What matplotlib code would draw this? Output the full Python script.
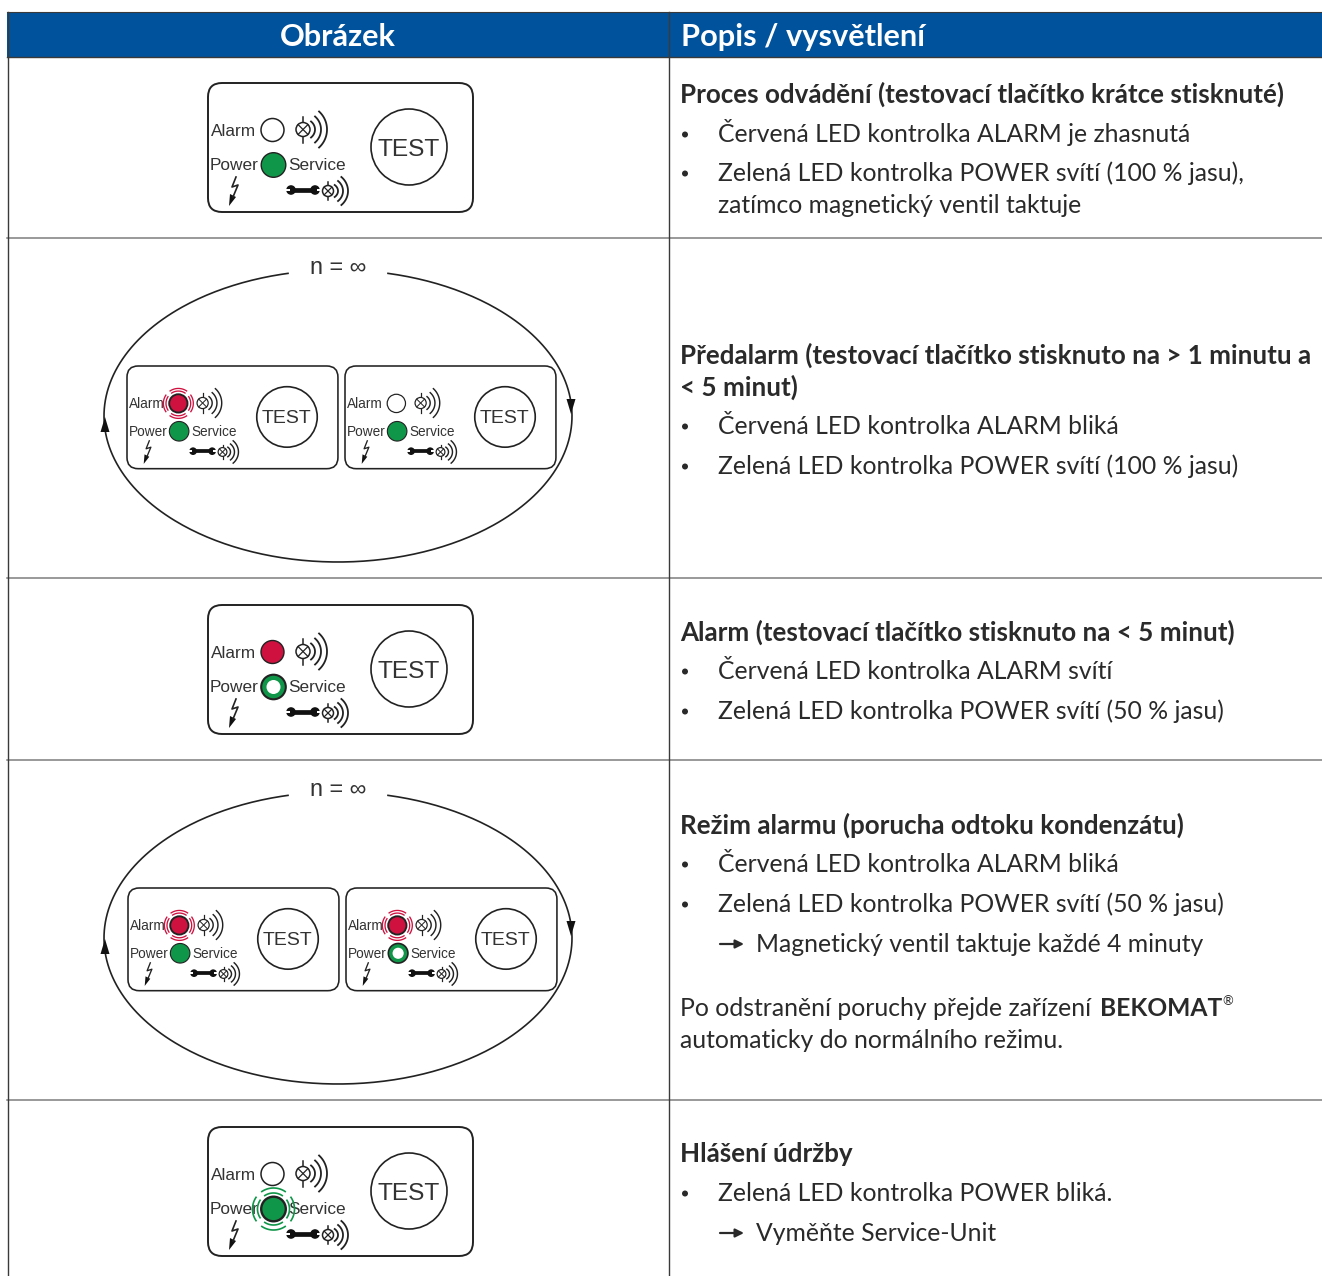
import numpy as np
import matplotlib
matplotlib.use("Agg")
import matplotlib.pyplot as plt
from matplotlib.patches import Circle, FancyBboxPatch, Rectangle, Polygon

W, H = 1322, 1276
BLUE = "#00529c"
RULE = "#7d7d7d"
FRAME = "#3a3a3a"
INK = "#2a2a2a"
GREEN = "#0f9648"
RED = "#cf1140"
BODY_FONT = "Lato"
LABEL_FONT = "Liberation Sans"
BODY_PX = 24.8
TITLE_PX = 26

headers = ["Obrázek", "Popis / vysvětlení"]
row_lines = [238, 578, 760, 1100]

# kind: t = bold title, b = bullet, c = continuation, a = arrow line
line_kinds = ["t", "b", "b", "c",
              "t", "t", "b", "b",
              "t", "b", "b",
              "t", "b", "b", "a", "c", "c",
              "t", "b", "a"]
line_texts = [
    "Proces odvádění (testovací tlačítko krátce stisknuté)",
    "Červená LED kontrolka ALARM je zhasnutá",
    "Zelená LED kontrolka POWER svítí (100 % jasu),",
    "zatímco magnetický ventil taktuje",
    "Předalarm (testovací tlačítko stisknuto na > 1 minutu a",
    "< 5 minut)",
    "Červená LED kontrolka ALARM bliká",
    "Zelená LED kontrolka POWER svítí (100 % jasu)",
    "Alarm (testovací tlačítko stisknuto na < 5 minut)",
    "Červená LED kontrolka ALARM svítí",
    "Zelená LED kontrolka POWER svítí (50 % jasu)",
    "Režim alarmu (porucha odtoku kondenzátu)",
    "Červená LED kontrolka ALARM bliká",
    "Zelená LED kontrolka POWER svítí (50 % jasu)",
    "Magnetický ventil taktuje každé 4 minuty",
    "Po odstranění poruchy přejde zařízení",
    "automaticky do normálního režimu.",
    "Hlášení údržby",
    "Zelená LED kontrolka POWER bliká.",
    "Vyměňte Service-Unit",
]
line_baselines = [102.5, 142, 181, 213,
                  363.5, 395.5, 434, 474,
                  640.5, 679, 719,
                  833.5, 872, 912, 952, 1016, 1048,
                  1162.5, 1201, 1241]

# panel origin x, origin y, scale, alarm led, power led
panels = [
    (208, 83, 1.0, "off", "on"),
    (127, 366, 0.796, "blink", "on"),
    (345, 366, 0.796, "off", "on"),
    (208, 605, 1.0, "on", "half"),
    (128, 888, 0.796, "blink", "on"),
    (346, 888, 0.796, "blink", "half"),
    (208, 1127, 1.0, "off", "blink"),
]
loop_centres = [416, 938]

fig = plt.figure(figsize=(W / 100, H / 100), dpi=100)
ax = fig.add_axes([0, 0, 1, 1])
ax.set_xlim(0, W)
ax.set_ylim(H, 0)
ax.axis("off")


def px(size):
    return size * 0.72


def rings(cx, cy, s, color, radii):
    for r in radii:
        for mid in (0, 90, 180, 270):
            t = np.radians(np.linspace(mid - 36, mid + 36, 30))
            ax.plot(cx + s * r * np.cos(t), cy + s * r * np.sin(t), color=color,
                    lw=1.2 * s, zorder=4, solid_capstyle="butt")


def led(cx, cy, s, state, color, r):
    if state == "off":
        ax.add_patch(Circle((cx, cy), r * s, fc="white", ec="#222222", lw=1.1 * s, zorder=5))
    elif state == "half":
        ax.add_patch(Circle((cx, cy), r * s, fc=color, ec="#222222", lw=1.5 * s, zorder=5))
        ax.add_patch(Circle((cx, cy), 7 * s, fc="white", ec="none", zorder=6))
    else:
        lw = 1.7 * s if state == "blink" else 1.0 * s
        ax.add_patch(Circle((cx, cy), r * s, fc=color, ec="#222222", lw=lw, zorder=5))
        if state == "blink":
            radii = (15.5, 18.8) if color == RED else (16, 21)
            rings(cx, cy, s, color, radii)


def lamp(cx, cy, s, r, stem, offsets, spread):
    ax.add_patch(Circle((cx, cy), r * s, fc="white", ec="#222222", lw=1.1 * s, zorder=3))
    d = r * s * 0.7
    ax.plot([cx - d, cx + d], [cy - d, cy + d], color="#222222", lw=0.9 * s, zorder=4)
    ax.plot([cx - d, cx + d], [cy + d, cy - d], color="#222222", lw=0.9 * s, zorder=4)
    ax.plot([cx, cx], [cy - stem * s, cy - r * s], color="#222222", lw=1.1 * s)
    ax.plot([cx, cx], [cy + r * s, cy + stem * s], color="#222222", lw=1.1 * s)
    for off, half in zip(offsets, spread):
        t = np.radians(np.linspace(-48, 48, 30))
        ax.plot(cx + s * off * np.cos(t), cy + s * half * np.sin(t) / np.sin(np.radians(48)),
                color="#222222", lw=1.3 * s)


def wrench(x0, x1, y, s):
    ax.plot([x0, x1], [y, y], color="#111111", lw=3.4 * s, solid_capstyle="butt")
    ax.add_patch(Circle((x0, y), 4.8 * s, fc="#111111", ec="none"))
    ax.add_patch(Circle((x1, y), 4.8 * s, fc="#111111", ec="none"))
    ax.add_patch(Rectangle((x0 - 5.5 * s, y - 1.2 * s), 4 * s, 2.4 * s, fc="white", ec="none", zorder=3))
    ax.add_patch(Rectangle((x1 + 1.5 * s, y - 1.2 * s), 4 * s, 2.4 * s, fc="white", ec="none", zorder=3))


def panel(ox, oy, s, alarm, power):
    def p(x, y):
        return ox + s * x, oy + s * y

    ax.add_patch(FancyBboxPatch((ox + 14 * s, oy + 14 * s), 237 * s, 101 * s,
                                boxstyle=f"round,pad={14 * s}", fc="white", ec="#222222", lw=1.4 if s == 1 else 1.15))
    for label, x, y in (("Alarm", 3, 48), ("Power", 2, 83), ("Service", 80.5, 83)):
        xx, yy = p(x, y)
        ax.text(xx, yy, label, fontsize=px(17.2 * s), family=LABEL_FONT, color="#333333",
                ha="left", va="center", zorder=3)
    led(*p(64.5, 47), s, alarm, RED, 11.5)
    led(*p(65.5, 82), s, power, GREEN, 12.3)
    lamp(*p(95, 46.5), s, 7, 13, (12, 18, 24), (8, 13, 18))
    lamp(*p(120, 108), s, 5.5, 9, (10, 15, 20), (6, 10, 14))
    wrench(*[ox + s * 83, ox + s * 107], oy + s * 107, s)

    bolt = [p(28, 94), p(24, 104), p(30, 102), p(25, 114)]
    ax.plot([q[0] for q in bolt], [q[1] for q in bolt], color="#222222", lw=1.2 * s)
    ax.add_patch(Polygon([p(21, 123), p(22, 111), p(28, 114)], fc="#111111", ec="none"))

    cx, cy = p(201, 64)
    ax.add_patch(Circle((cx, cy), 38 * s, fc="white", ec="#222222", lw=1.2))
    ax.text(cx, cy + 2.5 * s, "TEST", fontsize=px(24.5 * s), family=LABEL_FONT, color="#333333",
            ha="center", va="center")


def loop(cy):
    cx, a, b = 338, 234, 146
    gap = np.degrees(np.arccos(50 / a))
    t = np.radians(np.linspace(-gap, 180 + gap, 400))
    ax.plot(cx + a * np.cos(t), cy + b * np.sin(t), color="#222222", lw=1.2, zorder=1)
    ax.add_patch(Polygon([(571, cy - 2), (566.5, cy - 17), (575.5, cy - 17)], fc="#111111", ec="none", zorder=2))
    ax.add_patch(Polygon([(105, cy + 1), (100.5, cy + 16), (109.5, cy + 16)], fc="#111111", ec="none", zorder=2))
    ax.text(cx, cy - 148.5, "n = ∞", fontsize=px(23.5), family=LABEL_FONT, color="#333333", ha="center", va="center")


# table
ax.add_patch(Rectangle((7, 11.5), W - 7, 45, fc=BLUE, ec="none", zorder=1))
ax.plot([7, W], [11.5, 11.5], color=FRAME, lw=0.8, zorder=2)
ax.plot([7, W], [56.5, 56.5], color=FRAME, lw=1.0, zorder=2)
ax.plot([7.5, 7.5], [11.5, H], color=FRAME, lw=1.0, zorder=2)
ax.plot([669, 669], [11.5, H], color=FRAME, lw=1.0, zorder=2)
for y in row_lines:
    ax.plot([7, W], [y, y], color=RULE, lw=1.1, zorder=0)

ax.text(338, 46, headers[0], color="white", fontsize=px(30.8), family=BODY_FONT, weight="bold",
        ha="center", va="baseline", zorder=3)
ax.text(681, 46, headers[1], color="white", fontsize=px(30.8), family=BODY_FONT, weight="bold",
        ha="left", va="baseline", zorder=3)

for kind, text, y in zip(line_kinds, line_texts, line_baselines):
    if kind == "t":
        ax.text(680, y, text, color=INK, fontsize=px(TITLE_PX), family=BODY_FONT, weight="bold", va="baseline")
    elif kind == "b":
        ax.add_patch(Circle((685, y - 7.5), 3, fc=INK, ec="none"))
        ax.text(718, y, text, color=INK, fontsize=px(BODY_PX), family=BODY_FONT, va="baseline")
    elif kind == "a":
        ax.annotate("", xy=(744, y - 8), xytext=(720, y - 8),
                    arrowprops=dict(arrowstyle="-|>,head_length=0.5,head_width=0.25", color=INK, lw=1.6,
                                    shrinkA=0, shrinkB=0))
        ax.text(756, y, text, color=INK, fontsize=px(BODY_PX), family=BODY_FONT, va="baseline")
    else:
        x = 680 if y > 1000 else 718
        ax.text(x, y, text, color=INK, fontsize=px(BODY_PX), family=BODY_FONT, va="baseline")

ax.text(1100, 1016, "BEKOMAT", color=INK, fontsize=px(24.6), family=BODY_FONT, weight="bold", va="baseline")
ax.text(1222, 1005, "®", color=INK, fontsize=px(13), family=BODY_FONT, va="baseline")

for cy in loop_centres:
    loop(cy)
for ox, oy, s, alarm, power in panels:
    panel(ox, oy, s, alarm, power)

fig.savefig("out.png", dpi=100, facecolor="white")
